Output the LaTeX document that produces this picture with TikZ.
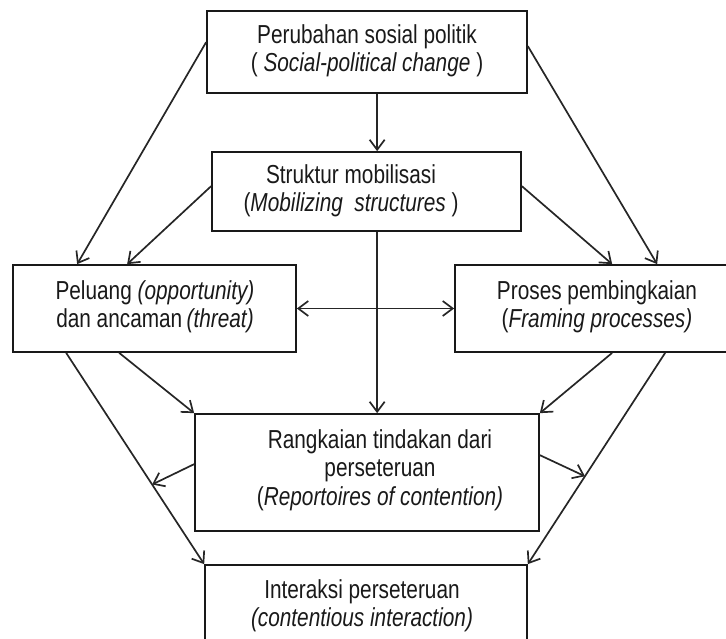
\documentclass[tikz,border=0pt]{standalone}
\usepackage{fontspec}
\setmainfont[FakeStretch=0.8]{Liberation Sans}
\usetikzlibrary{arrows.meta,calc}
\begin{document}
\begin{tikzpicture}[x=1pt,y=-1pt,
  >={Straight Barb[length=10pt,width=15pt]},
  box/.style={draw=black!90, line width=1.7pt, inner sep=0pt, rectangle},
  lbl/.style={align=center, font=\fontsize{26}{28.5}\selectfont, inner sep=0pt, text=black!90},
  arr/.style={line width=1.7pt, draw=black!85, ->},
  darr/.style={line width=1.7pt, draw=black!85, <->}]
\useasboundingbox (0,0) rectangle (726,639);
\clip (0,0) rectangle (726,639);
% boxes
\node[box, minimum width=320pt, minimum height=82pt] (b1) at (367,52) {};
\node[box, minimum width=309pt, minimum height=79pt] (b2) at (366.5,191.5) {};
\node[box, minimum width=283pt, minimum height=87pt] (b3) at (154.5,308.5) {};
\node[box, minimum width=284pt, minimum height=87pt] (b4) at (597,308.5) {};
\node[box, minimum width=344pt, minimum height=117pt] (b5) at (367,472.5) {};
\node[box, minimum width=322pt, minimum height=85pt] (b6) at (366,607.5) {};
% texts
\node[lbl] (t1) at (367,51) {Perubahan sosial politik\\( \textit{Social-political change} )};
\node[lbl] (t2) at (351,191) {Struktur mobilisasi\\(\textit{Mobilizing\ \ structures} )};
\node[lbl] (t3) at (155,307) {Peluang \textit{(opportunity)}\\dan ancaman\,\textit{(threat)}};
\node[lbl] (t4) at (597,307) {Proses pembingkaian\\(\textit{Framing processes)}};
\node[lbl] (t5) at (380,470) {Rangkaian tindakan dari\\perseteruan\\(\textit{Reportoires of contention)}};
\node[lbl] (t6) at (362,606) {Interaksi perseteruan\\\textit{(contentious interaction)}};
% helper coordinates
\coordinate (p8) at ($(b3.south west)+(54,0)$);
\coordinate (p12) at ($(b4.south west)+(211,0)$);
% connectors
\draw[arr] ($(b1.north west)+(0,32)$) -- ($(b3.north west)+(65,0)$);
\draw[arr] ($(b1.north east)+(0,36)$) -- ($(b4.north west)+(203,0)$);
\draw[arr] ($(b1.south west)+(171,0)$) -- ($(b2.north west)+(166,0)$);
\draw[arr] ($(b2.north west)+(0,35)$) -- ($(b3.north west)+(115,0)$);
\draw[arr] ($(b2.north east)+(0,35)$) -- ($(b4.north west)+(158,0)$);
\draw[arr] ($(b2.south west)+(166,0)$) -- ($(b5.north west)+(183,0)$);
\draw[darr] (b3.east) -- (b4.west);
\draw[arr] (p8) -- (b6.north west);
\draw[arr] ($(b3.south west)+(107,0)$) -- (b5.north west);
\draw[arr] ($(b5.north west)+(0,51)$) -- ($(p8)!0.623!(b6.north west)$);
\draw[arr] ($(b4.south west)+(158,0)$) -- (b5.north east);
\draw[arr] (p12) -- (b6.north east);
\draw[arr] ($(b5.north east)+(0,42)$) -- ($(p12)!0.584!(b6.north east)$);
\end{tikzpicture}
\end{document}
